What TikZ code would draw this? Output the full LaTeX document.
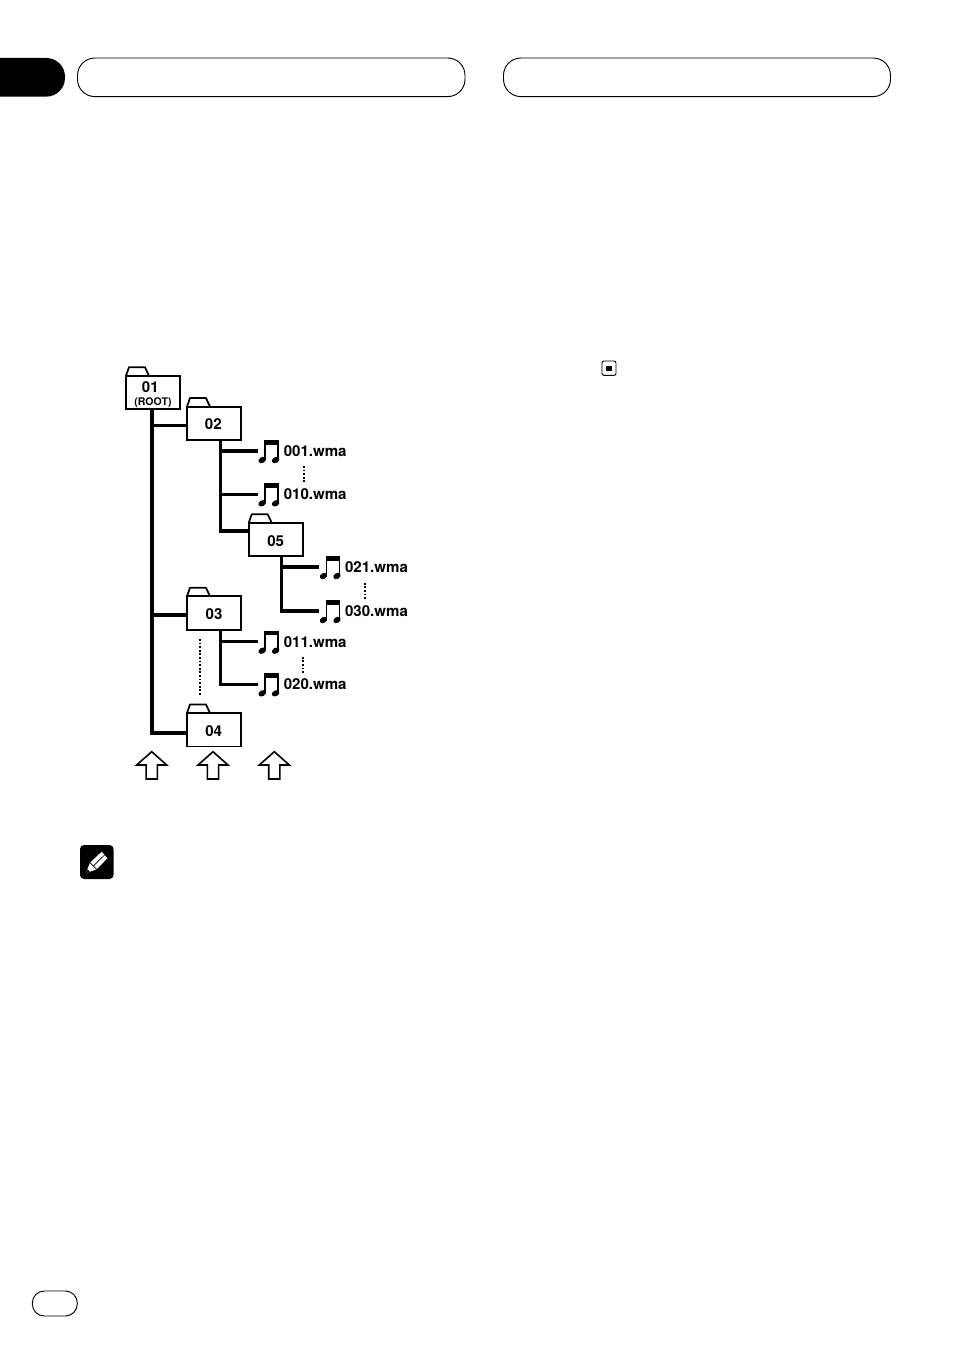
\documentclass[tikz,border=0pt]{standalone}
\usepackage{fontspec}
\setmainfont{TeX Gyre Heros}
\usetikzlibrary{arrows.meta,positioning}

\begin{document}
\begin{tikzpicture}[x=0.75pt,y=-0.75pt,
     folder/.style={draw,fill=white,line width=1.3pt,outer sep=0pt,inner sep=0pt,
       minimum width=40.5pt,minimum height=25pt,font=\fontsize{11.3}{12}\selectfont\bfseries,
       align=center,text height=10pt,text depth=0pt},
     tabline/.style={line width=1.3pt,line join=round},
     trunk/.style={line width=3pt,line join=miter},
     branch/.style={line width=2.3pt,line join=miter},
     tune/.style={minimum width=15.75pt,minimum height=17pt,inner sep=0pt,outer sep=0pt},
     lab/.style={font=\fontsize{11.3}{12}\selectfont\bfseries,inner sep=0pt,right=3.6pt},
     dots/.style={line width=1.6pt,dash pattern=on 1.4pt off 1.3pt},
     pill/.style={draw,line width=0.7pt,rounded corners=13pt},
     uparrow/.style={draw,line width=1.2pt,miter limit=8}]
    % page furniture
    \useasboundingbox (0,0) rectangle (954,1355);
    \fill (0,58) [rounded corners=14pt] -- (65,58) -- (65,96.6) [sharp corners] -- (0,96.6) -- cycle;
    \draw[pill] (77.5,58) rectangle (465,96.6);
    \draw[pill] (503.5,58) rectangle (890.5,96.6);
    \draw[pill,rounded corners=9pt] (32.3,1291) rectangle (77.3,1316);
    \draw[line width=0.7pt,rounded corners=1.5pt] (602,361) rectangle (616,375.4);
    \fill (606,365.5) rectangle (612,371);
    % pencil mark
    \fill[rounded corners=3pt] (80,845) rectangle (113.5,879);
    \fill[white] (85.7,873.3) -- (90,862.7) -- (101.7,851.7) -- (107.3,858.3) -- (96.7,869.3) -- cycle;
    \draw[line width=0.5pt] (93.3,866) -- (104.5,855);
    \draw[line width=0.5pt] (90,862.7) -- (96.7,869.3);
    \fill (85.7,873.3) -- (87.3,869.3) -- (89.8,871.7) -- cycle;
    % folders
    \node[folder,text height=18.8pt] (f01) at (153,392.5) {01\kern4pt\\[-2.5pt]{\fontsize{7.9}{9}\selectfont (ROOT)}};
    \node[folder] (f02) at (214,423.3) {\kern-1pt 02};
    \node[folder] (f05) at (275.7,539.5) {05};
    \node[folder] (f03) at (214,613) {03};
    \node[folder] (f04) at (214,729.7) {\kern-0.5pt 04};
    \foreach \f in {f01,f02,f05,f03,f04}
      \draw[tabline] (\f.north west) -- ++(3,-8.6) -- ++(16,0) -- ++(4,8.6);
    % files
    \node[tune] (n001) at (268.2,451) {};
    \node[lab] (l001) at (n001.east) {001.wma};
    \node[tune] (n010) at (268.2,494.3) {};
    \node[lab] (l010) at (n010.east) {010.wma};
    \node[tune] (n021) at (329.5,567) {};
    \node[lab] (l021) at (n021.east) {021.wma};
    \node[tune] (n030) at (329.5,611) {};
    \node[lab] (l030) at (n030.east) {030.wma};
    \node[tune] (n011) at (268.2,641.7) {};
    \node[lab] (l011) at (n011.east) {011.wma};
    \node[tune] (n020) at (268.2,684.3) {};
    \node[lab] (l020) at (n020.east) {020.wma};
    \foreach \n in {n001,n010,n021,n030,n011,n020} {
      \begin{scope}[shift={(\n.center)}]
        \fill (-3,-11) rectangle (10.5,-6.5);
        \draw[line width=1.2pt] (-3,-11) -- (-3,9) (10,-11) -- (10,9);
        \fill[rotate around={30:(-6,9)}] (-6,9) ellipse (4 and 2.9);
        \fill[rotate around={30:(7.5,9)}] (7.5,9) ellipse (4 and 2.9);
      \end{scope}
    }
    % tree lines
    \coordinate (c01) at (151.7,732.7);
    \coordinate (c02) at (151.7,425.3);
    \coordinate (c03) at (151.7,615);
    \coordinate (c11) at (220.3,531);
    \coordinate (c12) at (281.3,611);
    \coordinate (c13) at (220.7,684.3);
    \draw[trunk] (f01.south -| c01) -- (c01) -- (c01 -| f04.west);
    \draw[branch] (c02) -- (c02 -| f02.west);
    \draw[branch] (c03) -- (c03 -| f03.west);
    \draw[branch] (f02.south -| c11) -- (c11) -- (c11 -| f05.west);
    \draw[branch] (n001.west) -- (n001.west -| c11);
    \draw[branch] (n010.west) -- (n010.west -| c11);
    \draw[branch] (f05.south -| c12) -- (c12) -- (n030.west);
    \draw[branch] (n021.west) -- (n021.west -| c12);
    \draw[branch] (f03.south -| c13) -- (c13) -- (n020.west);
    \draw[branch] (n011.west) -- (n011.west -| c13);
    % skipped entries
    \foreach \x/\a/\b in {304/466/483,365.3/582.7/600,303/656.7/674,200.3/639/695}
      \draw[dots] (\x,\a) -- (\x,\b);
    % level arrows
    \foreach \x in {151.7,213,274.3}
      \draw[uparrow] (\x,751.7) -- ++(15,13.3) -- ++(-9.4,0) -- ++(0,14)
        -- ++(-11.2,0) -- ++(0,-14) -- ++(-9.4,0) -- cycle;
  \end{tikzpicture}
\end{document}
